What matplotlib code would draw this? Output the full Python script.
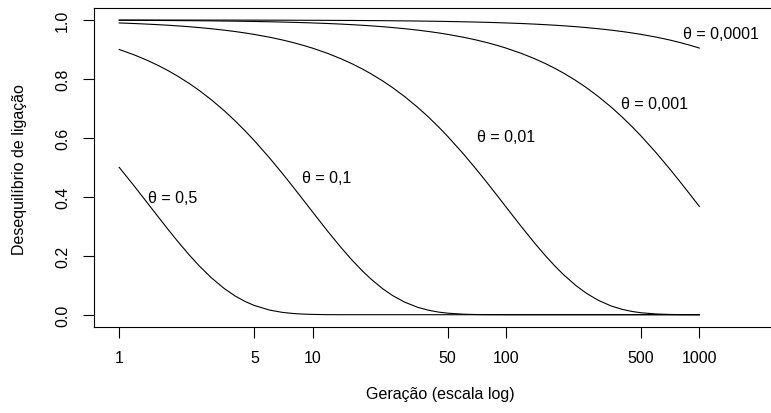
import matplotlib
matplotlib.use('Agg')
import matplotlib.pyplot as plt
from matplotlib.ticker import NullLocator

plt.rcParams['font.family'] = ['Liberation Sans', 'DejaVu Sans']

# generation (log scale)
geracao = [1, 1.2, 1.4, 1.6, 1.8, 2, 2.3, 2.6, 3, 3.5, 4, 4.5, 5, 6, 7, 8, 9,
           10, 12, 14, 16, 18, 20, 23, 26, 30, 35, 40, 45, 50, 60, 70, 80, 90,
           100, 120, 140, 160, 180, 200, 230, 260, 300, 350, 400, 450, 500,
           600, 700, 800, 900, 1000]

# linkage disequilibrium, one list per theta
d_theta_05 = [0.500, 0.4353, 0.3789, 0.3299, 0.2872, 0.250, 0.2031, 0.1649,
              0.125, 0.0884, 0.0625, 0.0442, 0.0313, 0.0156, 0.0078, 0.0039,
              0.0020, 0.0010, 0.0002, 0.0, 0.0, 0.0, 0.0, 0.0, 0.0, 0.0, 0.0,
              0.0, 0.0, 0.0, 0.0, 0.0, 0.0, 0.0, 0.0, 0.0, 0.0, 0.0, 0.0, 0.0,
              0.0, 0.0, 0.0, 0.0, 0.0, 0.0, 0.0, 0.0, 0.0, 0.0, 0.0, 0.0]
d_theta_01 = [0.900, 0.8812, 0.8629, 0.8449, 0.8272, 0.810, 0.7848, 0.7604,
              0.729, 0.6916, 0.6561, 0.6224, 0.5905, 0.5314, 0.4783, 0.4305,
              0.3874, 0.3487, 0.2824, 0.2288, 0.1853, 0.1501, 0.1216, 0.0886,
              0.0646, 0.0424, 0.0250, 0.0148, 0.0087, 0.0052, 0.0018, 0.0006,
              0.0002, 0.0001, 0.0, 0.0, 0.0, 0.0, 0.0, 0.0, 0.0, 0.0, 0.0, 0.0,
              0.0, 0.0, 0.0, 0.0, 0.0, 0.0, 0.0, 0.0]
d_theta_001 = [0.990, 0.9880, 0.9860, 0.9840, 0.9821, 0.9801, 0.9772, 0.9742,
               0.9703, 0.9654, 0.9606, 0.9558, 0.9510, 0.9415, 0.9321, 0.9227,
               0.9135, 0.9044, 0.8864, 0.8687, 0.8515, 0.8345, 0.8179, 0.7936,
               0.7700, 0.7397, 0.7034, 0.6690, 0.6362, 0.6050, 0.5472, 0.4948,
               0.4475, 0.4047, 0.3660, 0.2994, 0.2449, 0.2003, 0.1638, 0.1340,
               0.0991, 0.0733, 0.0490, 0.0297, 0.0180, 0.0109, 0.0066, 0.0024,
               0.0009, 0.0003, 0.0001, 0.0]
d_theta_0001 = [0.9990, 0.9988, 0.9986, 0.9984, 0.9982, 0.9980, 0.9977, 0.9974,
                0.9970, 0.9965, 0.9960, 0.9955, 0.9950, 0.9940, 0.9930, 0.9920,
                0.9910, 0.9900, 0.9881, 0.9861, 0.9841, 0.9822, 0.9802, 0.9773,
                0.9743, 0.9704, 0.9656, 0.9608, 0.9560, 0.9512, 0.9417, 0.9324,
                0.9231, 0.9139, 0.9048, 0.8869, 0.8693, 0.8521, 0.8353, 0.8187,
                0.7945, 0.7710, 0.7407, 0.7046, 0.6702, 0.6375, 0.6064, 0.5487,
                0.4964, 0.4491, 0.4064, 0.3677]
d_theta_00001 = [0.9999, 0.9999, 0.9999, 0.9998, 0.9998, 0.9998, 0.9998, 0.9997,
                 0.9997, 0.9997, 0.9996, 0.9996, 0.9995, 0.9994, 0.9993, 0.9992,
                 0.9991, 0.9990, 0.9988, 0.9986, 0.9984, 0.9982, 0.9980, 0.9977,
                 0.9974, 0.9970, 0.9965, 0.9960, 0.9955, 0.9950, 0.9940, 0.9930,
                 0.9920, 0.9910, 0.9900, 0.9881, 0.9861, 0.9841, 0.9822, 0.9802,
                 0.9773, 0.9743, 0.9704, 0.9656, 0.9608, 0.9560, 0.9512, 0.9418,
                 0.9324, 0.9231, 0.9139, 0.9048]

series = [d_theta_05, d_theta_01, d_theta_001, d_theta_0001, d_theta_00001]
rotulos = ['θ = 0,5', 'θ = 0,1', 'θ = 0,01', 'θ = 0,001', 'θ = 0,0001']
rot_x = [1.9, 11.8, 100, 590, 1290]
rot_y = [0.399, 0.467, 0.603, 0.718, 0.953]

xticks = [1, 5, 10, 50, 100, 500, 1000]
yticks = [0.0, 0.2, 0.4, 0.6, 0.8, 1.0]

fig = plt.figure(figsize=(7.71, 4.14), dpi=100)
ax = fig.add_axes([93.7/771, 1 - 327.5/414, 1 - 93.7/771, (327.5 - 9)/414])

for d in series:
    ax.plot(geracao, d, color='black', lw=0.8)

for x, y, s in zip(rot_x, rot_y, rotulos):
    ax.text(x, y, s, ha='center', va='center', fontsize=11.5)

ax.set_xscale('log')
ax.set_xlim(10**-0.132, 10**3.371)
ax.set_ylim(-0.04, 1.0407)
ax.xaxis.set_minor_locator(NullLocator())
ax.set_xticks(xticks)
ax.set_xticklabels([str(v) for v in xticks])
ax.set_yticks(yticks)
ax.set_yticklabels(['%.1f' % v for v in yticks], rotation=90, va='center')
ax.tick_params(direction='out', length=7.9, width=0.8, labelsize=11.5, pad=9)
ax.tick_params(axis='y', pad=9)
for sp in ['left', 'top', 'bottom']:
    ax.spines[sp].set_linewidth(0.8)
ax.spines['right'].set_visible(False)

fig.text(20/771, 1 - 170/414, 'Desequilíbrio de ligação', rotation=90,
         ha='center', va='center', fontsize=11.5)
fig.text(440.5/771, 1 - 395/414, 'Geração (escala log)', ha='center',
         va='center', fontsize=11.5)

fig.savefig('out.png', dpi=100)
